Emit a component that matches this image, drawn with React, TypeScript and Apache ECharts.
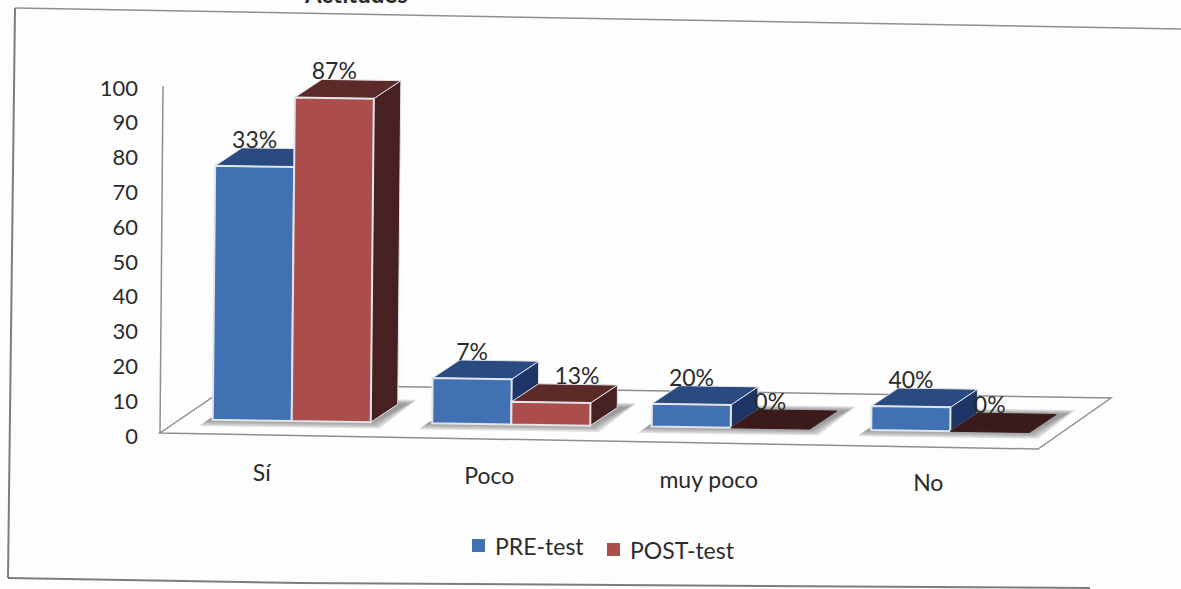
import React, { useEffect, useRef } from "react";
import * as echarts from "echarts";

const titleText = "Actitudes";
const categories = ["Sí", "Poco", "muy poco", "No"];
const preName = "PRE-test";
const postName = "POST-test";
const preHeights = [73, 13, 6.6, 6.9];
const postHeights = [93, 6.5, 0, 0];
const preLabels = ["33%", "7%", "20%", "40%"];
const postLabels = ["87%", "13%", "0%", "0%"];
const yTicks = [0, 100];

const FONT = "Lato, 'Open Sans', sans-serif";
const TEXT = "#2b2b2b";
const BAR_W = 79;
const DX = 27;
const DY = 18;
const SLOPE = 0.0155;
const LEAN = 0.0095;
const BLUE = { front: "#4271b3", top: "#2a4a82", side: "#1e3667", flat: "#2a4a82" };
const RED = { front: "#ab4e4b", top: "#5c2a29", side: "#472122", flat: "#3a1a1a" };
const EDGE = "#e2e4e8";

function floorY(x: number, zeroY: number) {
  return zeroY - 16 + (x - 160) * SLOPE;
}

function makeRender(seriesIndex: number, colors: typeof BLUE, labels: string[]) {
  return (params: any, api: any) => {
    const i = params.dataIndex;
    const v = api.value(1);
    const center = api.coord([i, 0]);
    const top = api.coord([i, v]);
    const h = center[1] - top[1];
    const mid = center[0] + 22;
    const x0 = seriesIndex === 0 ? mid - BAR_W : mid;
    const x1 = x0 + BAR_W;
    const by0 = floorY(x0, center[1]);
    const by1 = floorY(x1, center[1]);
    const lean = h * LEAN;
    const children: any[] = [];
    if (seriesIndex === 0) {
      const l = mid - BAR_W;
      const r = mid + BAR_W;
      const yl = floorY(l, center[1]);
      const yr = floorY(r, center[1]);
      [9, 7, 5, 3, 1].forEach((g) => {
        children.push({
          type: "polygon",
          shape: {
            points: [
              [l - 5 - g, yl + g * 0.7],
              [r + g, yr + g * 0.7],
              [r + DX + 10 + g, yr - DY - g * 0.5],
              [l + DX, yl - DY - g * 0.5],
            ],
          },
          style: { fill: "#6e6e6e", opacity: 0.2 },
        });
      });
    }
    if (h > 0) {
      children.push({
        type: "polygon",
        shape: {
          points: [
            [x1 + lean, by1 - h],
            [x1 + lean + DX, by1 - h - DY],
            [x1 + DX, by1 - DY],
            [x1, by1],
          ],
        },
        style: { fill: colors.side, stroke: EDGE, lineWidth: 1 },
      });
    }
    children.push({
      type: "polygon",
      shape: {
        points: [
          [x0 + lean, by0 - h],
          [x1 + lean, by1 - h],
          [x1 + lean + DX, by1 - h - DY],
          [x0 + lean + DX, by0 - h - DY],
        ],
      },
      style: {
        fill: h > 0 ? colors.top : colors.flat,
        stroke: h > 0 ? EDGE : colors.flat,
        lineWidth: 1,
      },
    });
    if (h > 0) {
      children.push({
        type: "polygon",
        shape: {
          points: [
            [x0 + lean, by0 - h],
            [x1 + lean, by1 - h],
            [x1, by1],
            [x0, by0],
          ],
        },
        style: { fill: colors.front, stroke: EDGE, lineWidth: 2 },
      });
    }
    const nudge = seriesIndex === 1 && i === 1 ? 26 : 0;
    children.push({
      type: "text",
      style: {
        x: (x0 + x1) / 2 + lean + nudge,
        y: by0 - h - 27,
        text: labels[i],
        fill: TEXT,
        font: `23px ${FONT}`,
        align: "center",
        verticalAlign: "middle",
      },
      z2: 50,
    });
    if (seriesIndex === 0) {
      children.push({
        type: "text",
        style: {
          x: center[0] - (i === 0 ? 8 : 0),
          y: center[1] + 37 + i * 3.3,
          text: categories[i],
          fill: TEXT,
          font: `23px ${FONT}`,
          align: "center",
          verticalAlign: "middle",
        },
        z2: 50,
      });
    }
    return { type: "group", children };
  };
}

export default function App() {
  const ref = useRef<HTMLDivElement>(null);
  useEffect(() => {
    const chart = echarts.init(ref.current!, undefined, { renderer: "svg" });
    const lineColor = "#8f8f8f";
    const legendBase = {
      padding: 0,
      itemWidth: 13,
      itemHeight: 13,
      itemGap: 0,
      icon: "rect",
      textStyle: { fontSize: 23, color: TEXT, fontFamily: FONT, padding: [0, 0, 0, 5] },
    };
    chart.setOption({
      animation: false,
      backgroundColor: "#fdfdfd",
      textStyle: { fontFamily: FONT },
      title: {
        text: titleText,
        left: 300,
        top: -24,
        textStyle: { fontSize: 24, fontWeight: "bold", color: TEXT, fontFamily: FONT },
      },
      grid: { left: 160, right: 143, top: 87, bottom: 154 },
      xAxis: {
        type: "category",
        data: categories,
        axisLine: { show: false },
        axisTick: { show: false },
        axisLabel: { show: false },
      },
      yAxis: {
        type: "value",
        min: yTicks[0],
        max: yTicks[1],
        interval: 10,
        splitLine: { show: false },
        axisLine: { show: false },
        axisTick: { show: false },
        axisLabel: { fontSize: 22, color: TEXT, margin: 22, fontFamily: FONT },
      },
      legend: [
        { ...legendBase, data: [preName], left: 472, top: 534 },
        { ...legendBase, data: [postName], left: 607, top: 538 },
      ],
      graphic: {
        elements: [
          { type: "line", z: 0, shape: { x1: 15, y1: 8, x2: 1181, y2: 29 }, style: { stroke: "#8f8f8f", lineWidth: 1.5 } },
          { type: "line", z: 0, shape: { x1: 15, y1: 8, x2: 8, y2: 578 }, style: { stroke: "#7d7d7d", lineWidth: 2 } },
          {
            type: "polyline",
            z: 0,
            shape: { points: [[8, 578], [300, 583], [1090, 588]] },
            style: { stroke: "#7d7d7d", lineWidth: 2, fill: "none" },
          },
          { type: "line", z: 0, shape: { x1: 163, y1: 86, x2: 160, y2: 433 }, style: { stroke: lineColor, lineWidth: 1.5 } },
          {
            type: "polygon",
            z: 0,
            shape: { points: [[160, 433], [1038, 449], [1111, 398], [232, 384]] },
            style: { fill: "#fefefe", stroke: lineColor, lineWidth: 1.5 },
          },
        ],
      },
      series: [
        {
          type: "custom",
          name: preName,
          itemStyle: { color: BLUE.front },
          renderItem: makeRender(0, BLUE, preLabels),
          encode: { x: 0, y: 1 },
          data: preHeights.map((v, i) => [i, v]),
          z: 2,
        },
        {
          type: "custom",
          name: postName,
          itemStyle: { color: RED.front },
          renderItem: makeRender(1, RED, postLabels),
          encode: { x: 0, y: 1 },
          data: postHeights.map((v, i) => [i, v]),
          z: 3,
        },
      ],
    });
    return () => chart.dispose();
  }, []);
  return (
    <div
      ref={ref}
      style={{ position: "absolute", left: 0, top: 0, width: 1181, height: 589 }}
    />
  );
}
